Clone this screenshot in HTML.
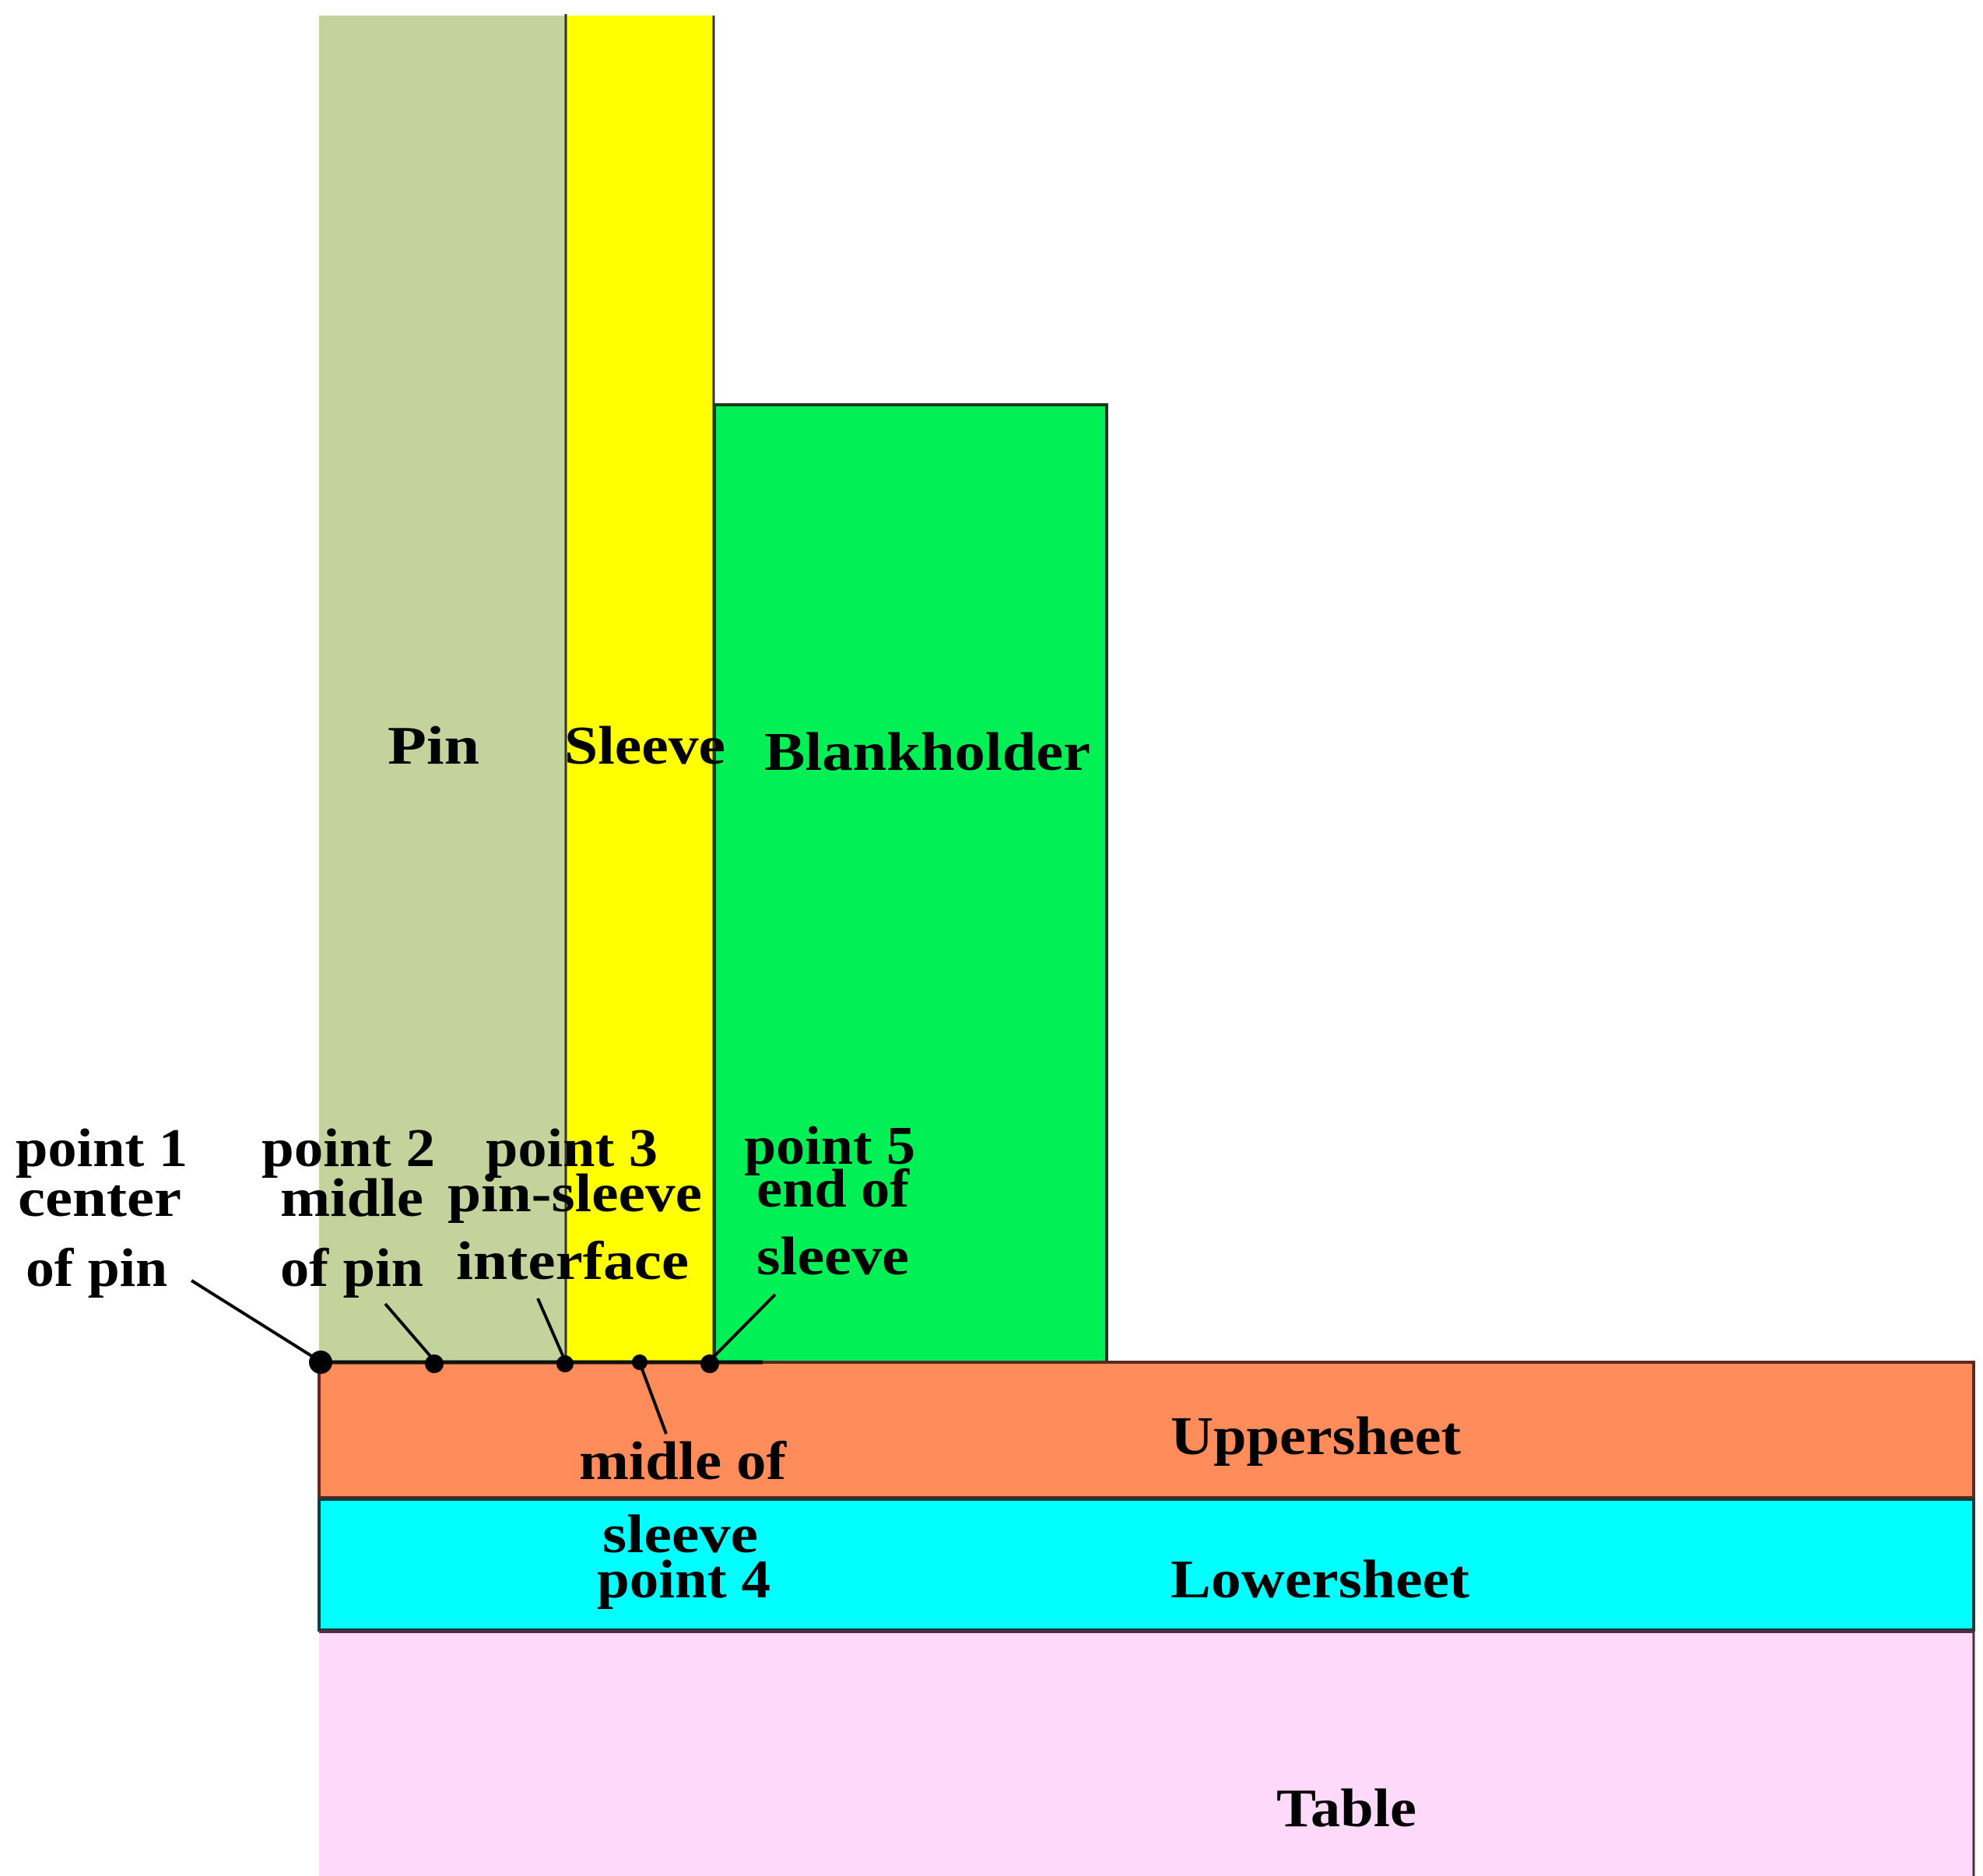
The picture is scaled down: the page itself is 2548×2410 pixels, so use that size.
<!DOCTYPE html>
<html><head><meta charset="utf-8"><style>html,body{margin:0;padding:0;background:#fff}svg{display:block}</style></head>
<body>
<svg width="2548" height="2410" viewBox="0 0 2548 2410" xmlns="http://www.w3.org/2000/svg">
<rect x="0" y="0" width="2548" height="2410" fill="#fff"/>
<rect x="410" y="20" width="316" height="1730" fill="#c3d39b"/>
<rect x="726" y="20" width="191" height="1730" fill="#ffff00"/>
<line x1="727" y1="18" x2="727" y2="1750" stroke="#333" stroke-width="3"/>
<line x1="917" y1="20" x2="917" y2="1750" stroke="#333" stroke-width="3"/>
<rect x="918" y="520" width="504" height="1230" fill="#00f055" stroke="#1a3a20" stroke-width="4"/>
<rect x="410" y="1750" width="2126" height="174" fill="#ff8c5a" stroke="#5a2a20" stroke-width="4"/>
<rect x="410" y="1926" width="2126" height="168" fill="#00ffff" stroke="#1a3a3a" stroke-width="4"/>
<rect x="410" y="2096" width="2126" height="314" fill="#ffd9fa"/>
<line x1="410" y1="2096" x2="2536" y2="2096" stroke="#4a3040" stroke-width="4"/>
<line x1="2536" y1="2096" x2="2536" y2="2410" stroke="#4a3040" stroke-width="3"/>
<line x1="410" y1="1750" x2="980" y2="1750" stroke="#111" stroke-width="5"/>
<g stroke="#000" stroke-width="4">
<line x1="246" y1="1645" x2="410" y2="1748"/>
<line x1="495" y1="1675" x2="558" y2="1748"/>
<line x1="691" y1="1668" x2="726" y2="1748"/>
<line x1="821" y1="1748" x2="856" y2="1842"/>
<line x1="996" y1="1663" x2="912" y2="1748"/>
</g>
<g fill="#000">
<circle cx="412" cy="1750" r="15"/>
<circle cx="558" cy="1752" r="12"/>
<circle cx="726" cy="1752" r="11"/>
<circle cx="822" cy="1750" r="10"/>
<circle cx="912" cy="1752" r="12"/>
</g>
<g font-family="Liberation Serif, serif" font-weight="bold" font-size="70" fill="#000">
<text x="20" y="1498" textLength="221" lengthAdjust="spacingAndGlyphs">point 1</text>
<text x="23" y="1562" textLength="210" lengthAdjust="spacingAndGlyphs">center</text>
<text x="33" y="1652" textLength="182" lengthAdjust="spacingAndGlyphs">of pin</text>
<text x="336" y="1498" textLength="223" lengthAdjust="spacingAndGlyphs">point 2</text>
<text x="360" y="1562" textLength="184" lengthAdjust="spacingAndGlyphs">midle</text>
<text x="360" y="1652" textLength="184" lengthAdjust="spacingAndGlyphs">of pin</text>
<text x="624" y="1498" textLength="221" lengthAdjust="spacingAndGlyphs">point 3</text>
<text x="575" y="1556" textLength="327" lengthAdjust="spacingAndGlyphs">pin-sleeve</text>
<text x="586" y="1643" textLength="299" lengthAdjust="spacingAndGlyphs">interface</text>
<text x="956" y="1495" textLength="220" lengthAdjust="spacingAndGlyphs">point 5</text>
<text x="972" y="1550" textLength="196" lengthAdjust="spacingAndGlyphs">end of</text>
<text x="972" y="1637" textLength="196" lengthAdjust="spacingAndGlyphs">sleeve</text>
<text x="744" y="1900" textLength="266" lengthAdjust="spacingAndGlyphs">midle of</text>
<text x="774" y="1994" textLength="200" lengthAdjust="spacingAndGlyphs">sleeve</text>
<text x="767" y="2052" textLength="223" lengthAdjust="spacingAndGlyphs">point 4</text>
<text x="498" y="981" textLength="118" lengthAdjust="spacingAndGlyphs">Pin</text>
<text x="725" y="981" textLength="207" lengthAdjust="spacingAndGlyphs">Sleeve</text>
<text x="982" y="989" textLength="419" lengthAdjust="spacingAndGlyphs">Blankholder</text>
<text x="1504" y="1868" textLength="373" lengthAdjust="spacingAndGlyphs">Uppersheet</text>
<text x="1504" y="2052" textLength="384" lengthAdjust="spacingAndGlyphs">Lowersheet</text>
<text x="1640" y="2346" textLength="180" lengthAdjust="spacingAndGlyphs">Table</text>
</g>
</svg>
</body></html>
